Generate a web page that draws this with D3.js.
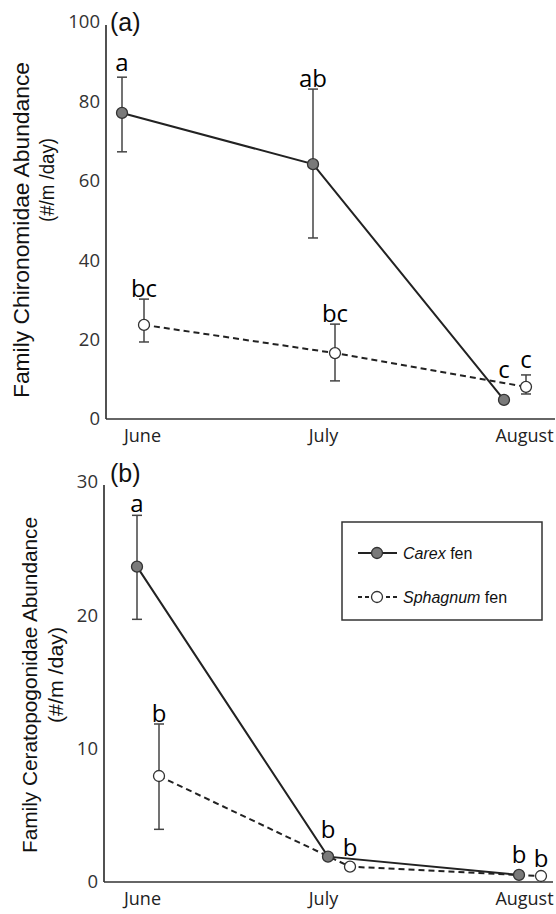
<!DOCTYPE html>
<html>
<head>
<meta charset="utf-8">
<script src="https://cdn.jsdelivr.net/npm/d3@7/dist/d3.min.js"></script>
<style>
  html, body { margin: 0; padding: 0; background: #fff; }
  svg { display: block; }
</style>
</head>
<body>
<svg id="chart" width="556" height="914"></svg>
<script>
// Sampling months
const months = ["June", "July", "August"];
const seriesNames = ["Carex", "Sphagnum"];

// (a) Chironomidae abundance (#/m²/day): mean, upper and lower error limits
const chiroCarex      = [77.1, 64.2, 4.8];
const chiroCarexHi    = [86.1, 83.1, 4.8];
const chiroCarexLo    = [67.3, 45.6, 4.8];
const chiroSphag      = [23.7, 16.6, 8.1];
const chiroSphagHi    = [30.2, 23.9, 11.1];
const chiroSphagLo    = [19.4, 9.6, 6.3];
const chiroCarexLetters  = ["a", "ab", "c"];
const chiroSphagLetters  = ["bc", "bc", "c"];
const chiroCarexLetterAt = [87.7, 83.6, 10.3];
const chiroSphagLetterAt = [30.7, 24.4, 12.8];
const chiroTicks = [0, 20, 40, 60, 80, 100];

// (b) Ceratopogonidae abundance (#/m²/day)
const ceratoCarex     = [23.65, 1.9, 0.53];
const ceratoCarexHi   = [27.5, 1.9, 0.53];
const ceratoCarexLo   = [19.7, 1.9, 0.53];
const ceratoSphag     = [7.95, 1.15, 0.45];
const ceratoSphagHi   = [11.85, 1.15, 0.45];
const ceratoSphagLo   = [3.95, 1.15, 0.45];
const ceratoCarexLetters  = ["a", "b", "b"];
const ceratoSphagLetters  = ["b", "b", "b"];
const ceratoCarexLetterAt = [27.75, 3.3, 1.43];
const ceratoSphagLetterAt = [12.0, 1.95, 1.13];
const ceratoTicks = [0, 10, 20, 30];

const svg = d3.select("#chart");

const INK = "#222";
const AXIS = "#333";
const tickFont = "'Open Sans', sans-serif";
const titleFont = "'Liberation Sans', Arial, sans-serif";

function panel(cfg) {
  const g = svg.append("g");
  const y = d3.scaleLinear().domain([0, cfg.yMax]).range([cfg.y0, cfg.yTop]);
  const xm = d3.scalePoint().domain(months).range([142, 524]);
  const xs = (name, m) => xm(m) + cfg.offset[name];

  // axis lines
  g.append("line")
    .attr("x1", cfg.axisX).attr("x2", cfg.axisX)
    .attr("y1", y(cfg.yMax) + 3).attr("y2", y(0))
    .attr("stroke", AXIS).attr("stroke-width", 1.7);
  g.append("line")
    .attr("x1", cfg.axisX).attr("x2", cfg.axisRight)
    .attr("y1", y(0)).attr("y2", y(0))
    .attr("stroke", AXIS).attr("stroke-width", 1.7);

  // y tick labels
  const ya = g.append("g")
    .attr("transform", `translate(${cfg.axisX},0)`)
    .call(d3.axisLeft(y).tickValues(cfg.ticks).tickSize(0).tickPadding(6));
  ya.select(".domain").remove();
  ya.selectAll("text")
    .attr("font-family", tickFont).attr("font-size", 18.5).attr("fill", "#333");

  // month labels
  const xa = g.append("g")
    .attr("transform", `translate(0,${y(0)})`)
    .call(d3.axisBottom(xm).tickSize(0).tickPadding(10));
  xa.select(".domain").remove();
  xa.selectAll("text")
    .attr("font-family", tickFont).attr("font-size", 18).attr("fill", "#222")
    .attr("dx", d => d === "July" ? -10 : 0);

  // y title (two lines)
  cfg.title.forEach(t => {
    g.append("text")
      .attr("transform", `translate(${t.x},${t.cy}) rotate(-90)`)
      .attr("text-anchor", "middle")
      .attr("font-family", titleFont)
      .attr("font-size", t.size)
      .attr("textLength", t.len)
      .attr("lengthAdjust", "spacingAndGlyphs")
      .attr("fill", "#111")
      .text(t.text);
  });

  // panel tag
  g.append("text")
    .attr("x", 110).attr("y", cfg.tagY)
    .attr("font-family", titleFont).attr("font-size", 25).attr("fill", "#111")
    .text(cfg.tag);

  const series = cfg.series;

  // connecting lines
  series.forEach(s => {
    const line = d3.line().x((d, i) => xs(s.name, months[i])).y(d => y(d));
    g.append("path")
      .attr("d", line(s.mean))
      .attr("fill", "none")
      .attr("stroke", INK)
      .attr("stroke-width", 2)
      .attr("stroke-dasharray", s.name === "Sphagnum" ? "6,4" : null);
  });

  // error bars
  series.forEach(s => {
    s.mean.forEach((m, i) => {
      if (s.hi[i] === s.lo[i]) return;
      const cx = xs(s.name, months[i]);
      g.append("line")
        .attr("x1", cx).attr("x2", cx)
        .attr("y1", y(s.hi[i])).attr("y2", y(s.lo[i]))
        .attr("stroke", "#444").attr("stroke-width", 1.5);
      [s.hi[i], s.lo[i]].forEach(v => {
        g.append("line")
          .attr("x1", cx - 5).attr("x2", cx + 5)
          .attr("y1", y(v)).attr("y2", y(v))
          .attr("stroke", "#444").attr("stroke-width", 1.5);
      });
    });
  });

  // markers
  series.forEach(s => {
    g.selectAll(null).data(s.mean).enter().append("circle")
      .attr("cx", (d, i) => xs(s.name, months[i]))
      .attr("cy", d => y(d))
      .attr("r", 5.5)
      .attr("fill", s.name === "Carex" ? "#7a7a7a" : "#fff")
      .attr("stroke", "#333")
      .attr("stroke-width", 1.3);
  });

  // significance letters
  series.forEach(s => {
    g.selectAll(null).data(s.letters).enter().append("text")
      .attr("x", (d, i) => xs(s.name, months[i]))
      .attr("y", (d, i) => y(s.letterAt[i]))
      .attr("text-anchor", "middle")
      .attr("font-family", tickFont)
      .attr("font-size", 24)
      .attr("fill", "#000")
      .text(d => d);
  });
}

panel({
  yMax: 100, y0: 419, yTop: 22, axisX: 106, axisRight: 555,
  ticks: chiroTicks, tag: "(a)", tagY: 31,
  offset: { Carex: -20, Sphagnum: 2 },
  title: [
    { text: "Family Chironomidae Abundance", x: 29, cy: 230, size: 22, len: 336 },
    { text: "(#/m /day)", x: 54, cy: 180, size: 20, len: 84 }
  ],
  series: [
    { name: "Carex", mean: chiroCarex, hi: chiroCarexHi, lo: chiroCarexLo,
      letters: chiroCarexLetters, letterAt: chiroCarexLetterAt },
    { name: "Sphagnum", mean: chiroSphag, hi: chiroSphagHi, lo: chiroSphagLo,
      letters: chiroSphagLetters, letterAt: chiroSphagLetterAt }
  ]
});

panel({
  yMax: 30, y0: 882, yTop: 482, axisX: 104, axisRight: 553,
  ticks: ceratoTicks, tag: "(b)", tagY: 482,
  offset: { Carex: -5, Sphagnum: 17 },
  title: [
    { text: "Family Ceratopogonidae Abundance", x: 37, cy: 685, size: 21, len: 336 },
    { text: "(#/m /day)", x: 63, cy: 675, size: 21, len: 96 }
  ],
  series: [
    { name: "Carex", mean: ceratoCarex, hi: ceratoCarexHi, lo: ceratoCarexLo,
      letters: ceratoCarexLetters, letterAt: ceratoCarexLetterAt },
    { name: "Sphagnum", mean: ceratoSphag, hi: ceratoSphagHi, lo: ceratoSphagLo,
      letters: ceratoSphagLetters, letterAt: ceratoSphagLetterAt }
  ]
});

// legend
const lg = svg.append("g");
lg.append("rect")
  .attr("x", 342).attr("y", 522).attr("width", 200).attr("height", 98)
  .attr("fill", "#fff").attr("stroke", "#333").attr("stroke-width", 1.5);
seriesNames.forEach((name, i) => {
  const ly = 553 + i * 44;
  lg.append("line")
    .attr("x1", 358).attr("x2", 397).attr("y1", ly).attr("y2", ly)
    .attr("stroke", INK).attr("stroke-width", 2)
    .attr("stroke-dasharray", name === "Sphagnum" ? "4,3" : null);
  lg.append("circle")
    .attr("cx", 377).attr("cy", ly).attr("r", 5.5)
    .attr("fill", name === "Carex" ? "#7a7a7a" : "#fff")
    .attr("stroke", "#333").attr("stroke-width", 1.3);
  const t = lg.append("text")
    .attr("x", 403).attr("y", ly + 6)
    .attr("font-family", titleFont).attr("font-size", 16).attr("fill", "#111");
  t.append("tspan").attr("font-style", "italic").text(name);
  t.append("tspan").text(" fen");
});
</script>
</body>
</html>
